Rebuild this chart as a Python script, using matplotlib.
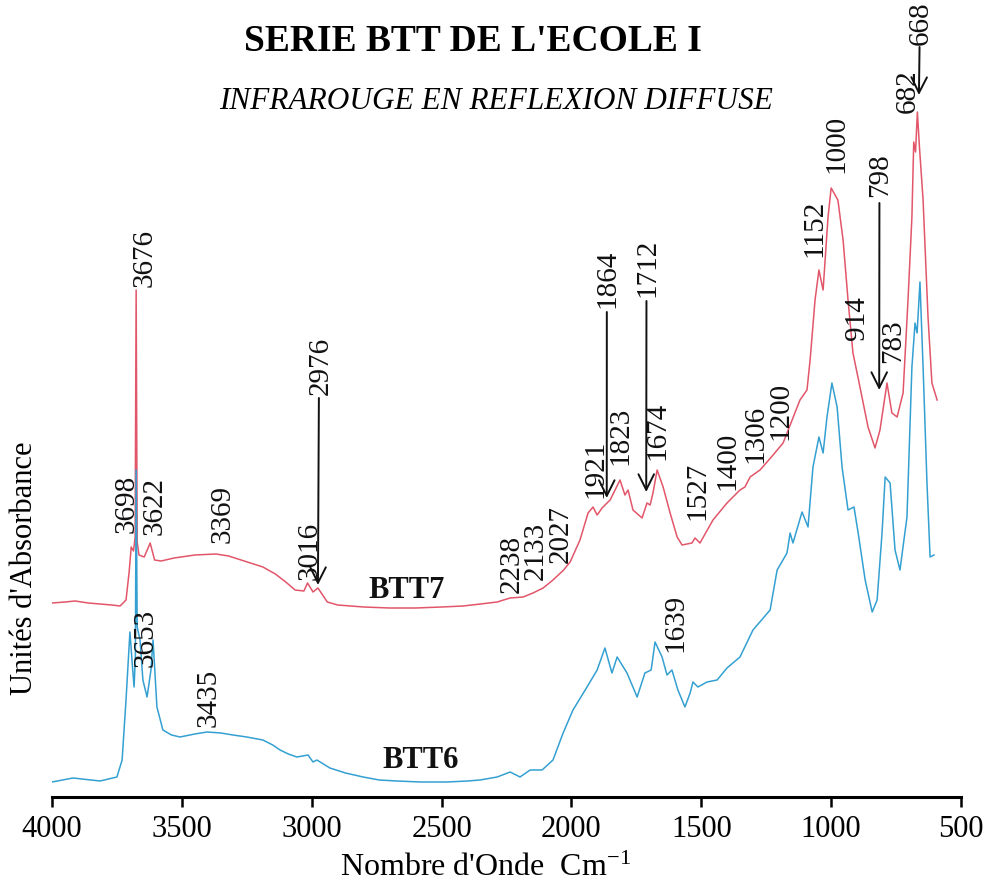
import matplotlib
matplotlib.use("Agg")
import matplotlib.pyplot as plt

plt.rcParams["font.family"] = ["Liberation Serif", "DejaVu Serif"]
plt.rcParams["mathtext.default"] = "regular"

# ---- spectra (wavenumber cm-1, absorbance in arbitrary units) ----
btt7_wn = [4000, 3950, 3911, 3860, 3815, 3770, 3738, 3715, 3703, 3695, 3686, 3680,
           3676, 3672, 3665, 3645, 3622, 3605, 3580, 3530, 3450, 3369, 3320, 3260,
           3188, 3140, 3100, 3064, 3030, 3016, 2995, 2976, 2940, 2900, 2850, 2800,
           2700, 2600, 2500, 2417, 2350, 2286, 2236, 2186, 2148, 2109, 2071, 2030,
           2005, 1967, 1936, 1917, 1901, 1882, 1863, 1851, 1832, 1813, 1794, 1782,
           1763, 1728, 1709, 1697, 1686, 1670, 1647, 1620, 1593, 1574, 1536, 1524,
           1505, 1455, 1401, 1351, 1332, 1312, 1274, 1230, 1185, 1120, 1093, 1081,
           1062, 1047, 1031, 1012, 1000, 974, 954, 935, 916, 889, 858, 831, 812, 785,
           766, 746, 723, 704, 689, 682, 675, 668, 660, 646, 627, 612, 592]
btt7_abs = [1.94, 1.95, 1.96, 1.94, 1.93, 1.92, 1.91, 1.97, 2.25, 2.50, 2.46, 2.60,
            5.07, 2.55, 2.42, 2.40, 2.54, 2.37, 2.36, 2.39, 2.42, 2.43, 2.41, 2.36,
            2.30, 2.23, 2.15, 2.07, 2.06, 2.14, 2.05, 2.09, 1.95, 1.92, 1.91, 1.90,
            1.89, 1.89, 1.90, 1.91, 1.93, 1.95, 1.99, 2.00, 2.04, 2.09, 2.17, 2.27,
            2.35, 2.57, 2.84, 2.90, 2.82, 2.89, 2.94, 2.97, 3.07, 3.17, 3.02, 3.07,
            2.87, 2.79, 2.94, 2.92, 3.04, 3.27, 3.10, 2.84, 2.60, 2.52, 2.54, 2.59,
            2.54, 2.77, 2.94, 3.07, 3.10, 3.20, 3.27, 3.40, 3.54, 3.97, 4.07, 4.37,
            4.97, 5.27, 5.07, 5.80, 6.09, 5.97, 5.57, 4.97, 4.44, 4.10, 3.70, 3.49, 3.67, 4.14,
            3.84, 3.80, 4.04, 4.97, 5.80, 6.55, 6.45, 6.85, 6.50, 5.97, 4.80, 4.14, 3.97]

btt6_wn = [4000, 3919, 3815, 3750, 3730, 3715, 3700, 3690, 3684, 3679, 3676, 3672,
           3661, 3650, 3634, 3619, 3611, 3596, 3573, 3540, 3507, 3450, 3403, 3350,
           3303, 3250, 3188, 3150, 3122, 3090, 3057, 3014, 2995, 2980, 2930, 2870,
           2802, 2740, 2672, 2580, 2479, 2400, 2352, 2286, 2236, 2198, 2159, 2113,
           2071, 2032, 1994, 1940, 1901, 1871, 1844, 1824, 1786, 1747, 1717, 1693,
           1678, 1651, 1632, 1613, 1590, 1563, 1543, 1532, 1513, 1478, 1439, 1401,
           1351, 1301, 1235, 1208, 1170, 1158, 1147, 1112, 1089, 1070, 1047, 1031,
           1016, 997, 977, 958, 935, 912, 896, 869, 842, 823, 804, 792, 773, 754, 735,
           708, 689, 677, 669, 658, 646, 631, 619, 604]
btt6_abs = [0.15, 0.19, 0.16, 0.20, 0.37, 0.97, 1.65, 1.30, 1.10, 1.40, 3.27, 1.70,
            1.57, 1.17, 1.00, 1.27, 1.57, 0.90, 0.67, 0.62, 0.60, 0.63, 0.65, 0.64,
            0.62, 0.60, 0.57, 0.52, 0.47, 0.43, 0.40, 0.42, 0.35, 0.37, 0.29, 0.24,
            0.20, 0.17, 0.16, 0.15, 0.15, 0.16, 0.17, 0.20, 0.25, 0.20, 0.27, 0.27,
            0.37, 0.64, 0.87, 1.10, 1.27, 1.49, 1.24, 1.40, 1.24, 1.00, 1.24, 1.27,
            1.55, 1.40, 1.22, 1.27, 1.07, 0.90, 1.04, 1.15, 1.10, 1.15, 1.17, 1.29,
            1.40, 1.67, 1.87, 2.27, 2.44, 2.64, 2.54, 2.85, 2.70, 3.30, 3.60, 3.44,
            3.80, 4.14, 3.90, 3.30, 2.87, 2.90, 2.64, 2.17, 1.85, 1.97, 2.64, 3.20, 3.14, 2.47, 2.27,
            2.80, 4.30, 4.74, 4.64, 5.15, 4.30, 3.14, 2.40, 2.42]

# ---- band labels: text, anchor wavenumber, bottom of text (absorbance) ----
band_text = ["3698", "3622", "3369", "3653", "3435", "3016", "2238", "2133", "2027",
             "1921", "1823", "1674", "1527", "1400", "1306", "1200", "1152", "1000",
             "914", "783", "682", "1639"]
band_wn = [3711, 3607, 3345, 3638, 3399, 3007, 2229, 2136, 2040,
           1909, 1813, 1670, 1513, 1401, 1290, 1197, 1066, 978,
           901, 762, 704, 1601]
band_y = [2.64, 2.62, 2.54, 1.30, 0.70, 2.17, 2.04, 2.17, 2.34,
          2.99, 3.32, 3.37, 2.77, 3.07, 3.34, 3.57, 5.40, 6.24,
          4.57, 4.34, 6.84, 1.45]

# ---- arrowed labels: text, text wavenumber, text bottom, arrow tail/tip ----
arrow_text = ["3676", "2976", "1864", "1712", "798", "668"]
arrow_text_wn = [3642, 2964, 1863, 1709, 812, 654]
arrow_text_y = [5.10, 4.02, 4.89, 5.00, 6.00, 7.52]
arrow_tip_wn = [None, 2976, 1864, 1712, 815, 662]
arrow_tail_y = [None, 3.99, 4.85, 4.96, 5.94, 7.50]
arrow_tip_y = [None, 2.12, 2.99, 3.05, 4.07, 7.02]

series_names = ["BTT7", "BTT6"]
series_name_wn = [2633, 2579]
series_name_y = [2.07, 0.37]

x_ticks = [4000, 3500, 3000, 2500, 2000, 1500, 1000, 500]

fig = plt.figure(figsize=(9.88, 8.86), dpi=100)
ax = fig.add_axes([52 / 988, 89 / 886, 909 / 988, 797 / 886])
ax.set_xlim(4000, 500)
ax.set_ylim(0, 7.97)

ax.plot(btt7_wn, btt7_abs, color="#e2566a", lw=1.1)
ax.plot(btt6_wn, btt6_abs, color="#34a0d2", lw=1.1)

for s, w, y in zip(band_text, band_wn, band_y):
    ax.text(w, y, s, rotation=90, ha="center", va="bottom", fontsize=21,
            color="#111111", clip_on=False)

for s, w, y, tw, ty0, ty1 in zip(arrow_text, arrow_text_wn, arrow_text_y,
                                 arrow_tip_wn, arrow_tail_y, arrow_tip_y):
    ax.text(w, y, s, rotation=90, ha="center", va="bottom", fontsize=21,
            color="#111111", clip_on=False)
    if tw is not None:
        ax.annotate("", xy=(tw, ty1), xytext=(tw - (tw - w) * 0.3, ty0),
                    arrowprops=dict(arrowstyle="->", lw=1.4, color="#111111",
                                    mutation_scale=28, shrinkA=0, shrinkB=0),
                    annotation_clip=False)

for s, w, y in zip(series_names, series_name_wn, series_name_y):
    ax.text(w, y, s, ha="center", va="center", fontsize=22, fontweight="bold",
            color="#111111")

for side in ("top", "left", "right"):
    ax.spines[side].set_visible(False)
ax.spines["bottom"].set_linewidth(2.2)
ax.set_yticks([])
ax.set_xticks(x_ticks)
ax.set_xticklabels([str(t) for t in x_ticks])
ax.tick_params(axis="x", direction="out", length=7, width=1.8, labelsize=22, pad=6)
ax.patch.set_alpha(0)

fig.text(0.479, 0.9526, "SERIE BTT DE L'ECOLE I", ha="center", va="center",
         fontsize=27, fontweight="bold")
fig.text(0.502, 0.885, "INFRAROUGE EN REFLEXION DIFFUSE", ha="center",
         va="center", fontsize=22.5, fontstyle="italic")
fig.text(0.491, 0.0203, "Nombre d'Onde  Cm$^{-1}$", ha="center", va="center",
         fontsize=23)
fig.text(0.0253, 0.359, "Unités d'Absorbance", ha="center", va="center",
         rotation=90, fontsize=22)

fig.savefig("out.png", dpi=100)
